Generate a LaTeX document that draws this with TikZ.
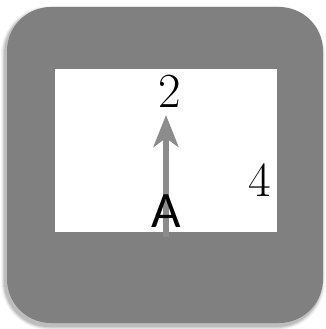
\documentclass[tikz,border=0pt]{standalone}
\usepackage{fontspec}
\newfontfamily\sansA{Carlito}
\usetikzlibrary{arrows.meta}
\definecolor{framegray}{HTML}{808080}
\definecolor{arrowgray}{HTML}{8C8C8C}
\tikzset{
  framebox/.style={fill=framegray, rounded corners=44pt, minimum width=316pt, minimum height=316pt, inner sep=0pt, draw=none},
  shadowbox/.style={fill=black, rounded corners=44pt, minimum width=316pt, minimum height=316pt, inner sep=0pt, draw=none},
  innerbox/.style={fill=white, minimum width=222pt, minimum height=163pt, inner sep=0pt, draw=none},
  digit/.style={inner sep=0pt, font=\fontsize{49}{54}\selectfont},
  letter/.style={inner sep=0pt, font=\sansA\fontsize{51}{55}\selectfont},
  pointer/.style={draw=arrowgray, line width=6pt, -{Stealth[length=32pt,width=25pt,inset=9pt]}}
}
\begin{document}
\begin{tikzpicture}[x=1pt,y=-1pt]
\useasboundingbox[fill=white] (0,0) rectangle (325,329);
\foreach \d/\o in {4/0.04,3/0.06,2/0.08,1/0.10}{
  \node[shadowbox, fill opacity=\o, minimum width={316pt+2*\d pt}, minimum height={316pt+2*\d pt}, rounded corners={44pt+\d pt}] at (163,168) {};
}
\node[framebox] (frame) at (165,165) {};
\node[innerbox] (inner) at (166,150.5) {};
\coordinate (tail) at (166,237);
\coordinate (head) at (166,115);
\draw[pointer] (tail) -- (head);
\node[digit] (two) at (170,91) {2};
\node[digit] (four) at (260,180) {4};
\node[letter] (A) at (166,211) {A};
\end{tikzpicture}
\end{document}
